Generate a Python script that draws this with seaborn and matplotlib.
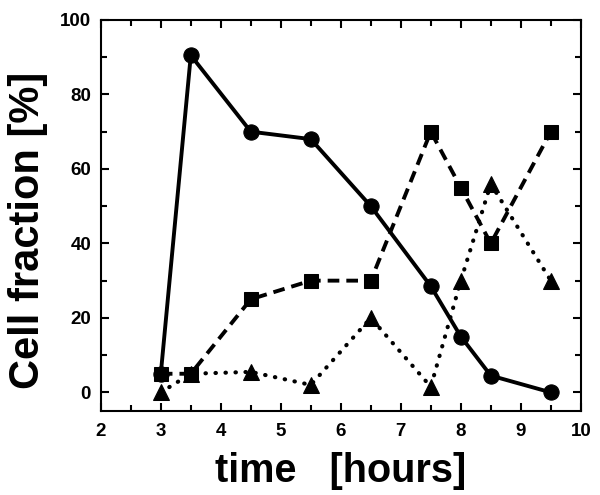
import pandas as pd
import matplotlib.pyplot as plt
import seaborn as sns
from matplotlib.ticker import MultipleLocator

time_h = [3, 3.5, 4.5, 5.5, 6.5, 7.5, 8, 8.5, 9.5]
circles = [5, 90.5, 70, 68, 50, 28.5, 15, 4.5, 0]
squares = [5, 5, 25, 30, 30, 70, 55, 40, 70]
triangles = [0, 5, 5.5, 2, 20, 1.5, 30, 56, 30]

sns.set_style('ticks')
plt.rcParams['font.family'] = ['Liberation Sans', 'DejaVu Sans']
plt.rcParams['font.weight'] = 'bold'
for k in ['text.color', 'axes.labelcolor', 'xtick.color', 'ytick.color', 'axes.edgecolor']:
    plt.rcParams[k] = 'black'

fig = plt.figure(figsize=(6, 4.95), dpi=100)
ax = fig.add_axes([0.168, 0.1697, 0.8, 0.79])

df = pd.DataFrame({'t': time_h, 'c': circles, 's': squares, 'tr': triangles})

sns.lineplot(data=df, x='t', y='s', ax=ax, color='black', marker='s', markersize=9.5,
             linewidth=2.8, linestyle=(0, (3, 1.8)), markeredgecolor='black')
sns.lineplot(data=df, x='t', y='tr', ax=ax, color='black', marker='^', markersize=11.5,
             linewidth=3, linestyle=(0, (0.1, 2.3)), dash_capstyle='round', markeredgecolor='black')
sns.lineplot(data=df, x='t', y='c', ax=ax, color='black', marker='o', markersize=11,
             linewidth=2.8, markeredgecolor='black')

ax.set_xlim(2, 10)
ax.set_ylim(-5, 100)
ax.xaxis.set_major_locator(MultipleLocator(1))
ax.xaxis.set_minor_locator(MultipleLocator(0.5))
ax.yaxis.set_major_locator(MultipleLocator(20))
ax.yaxis.set_minor_locator(MultipleLocator(10))
ax.tick_params(which='both', direction='in', top=True, right=True, width=1.5)
ax.tick_params(which='major', length=6, labelsize=13.5)
ax.tick_params(axis='x', which='major', pad=9)
ax.tick_params(axis='y', which='major', pad=7)
ax.tick_params(which='minor', length=4)
for lab in ax.get_xticklabels() + ax.get_yticklabels():
    lab.set_fontweight('bold')
for sp in ax.spines.values():
    sp.set_linewidth(1.5)

ax.set_xlabel('time   [hours]', fontsize=28.5, fontweight='bold', labelpad=8)
ax.set_ylabel('Cell fraction [%]', fontsize=30, fontweight='bold',
              family=['Liberation Sans Narrow', 'Liberation Sans'])
ax.yaxis.set_label_coords(-0.11, 0.463)

fig.savefig('out.png', dpi=100)
